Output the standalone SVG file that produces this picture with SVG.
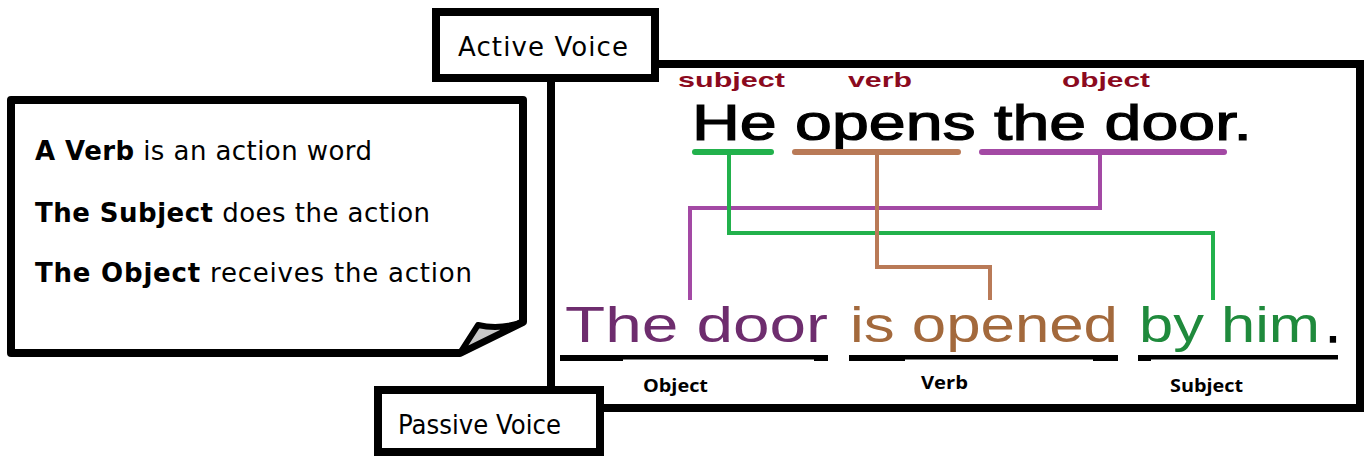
<svg xmlns="http://www.w3.org/2000/svg" width="1367" height="456" viewBox="0 0 1367 456">
<style>
.box{fill:#fff;stroke:#000;stroke-width:8}
.frame{fill:none;stroke:#000;stroke-width:8}
.comic{font-family:"DejaVu Sans","Liberation Sans",sans-serif;font-size:26px;fill:#000}
.b{font-weight:bold}
.lab{font-family:"Liberation Sans",Arial,sans-serif;font-weight:bold;font-size:21px;fill:#8b0a1e}
.big{font-family:"Liberation Sans",Arial,sans-serif;font-size:50px}
.small{font-family:"Open Sans","Liberation Sans",sans-serif;font-weight:bold;font-size:18px;fill:#000}
.con{fill:none;stroke-width:4}
.ul{stroke-width:6;stroke-linecap:round}
</style>
<rect width="1367" height="456" fill="#fff"/>
<g id="main-frame">
<path class="frame" d="M655 64 H1360 V408 H600 M551 80 V388"/>
</g>
<g id="note">
<path d="M11 100 H523 V322 L460 353 H11 Z" fill="#fff" stroke="#000" stroke-width="8" stroke-linejoin="round"/>
<path d="M460 353 L478 325 Q500 330 523 322 Z" fill="#c8c8c8" stroke="#000" stroke-width="6" stroke-linejoin="round"/>
<text class="comic" x="35" y="160" textLength="337"><tspan class="b">A Verb</tspan> is an action word</text>
<text class="comic" x="35" y="222" textLength="395"><tspan class="b">The Subject</tspan> does the action</text>
<text class="comic" x="35" y="282" textLength="437"><tspan class="b">The Object</tspan> receives the action</text>
</g>
<g id="active-voice">
<rect class="box" x="436" y="12" width="219" height="66"/>
<text class="comic" x="458" y="56" textLength="170">Active Voice</text>
</g>
<g id="passive-voice">
<rect class="box" x="378" y="390" width="222" height="62"/>
<text class="comic" x="398" y="434" textLength="163" lengthAdjust="spacingAndGlyphs">Passive Voice</text>
</g>
<g id="active-sentence">
<text class="lab" x="678" y="87" textLength="107" lengthAdjust="spacingAndGlyphs">subject</text>
<text class="lab" x="848" y="87" textLength="64" lengthAdjust="spacingAndGlyphs">verb</text>
<text class="lab" x="1062" y="87" textLength="88" lengthAdjust="spacingAndGlyphs">object</text>
<text class="big" x="692" y="140" fill="#000" stroke="#000" stroke-width="1.2" textLength="560" lengthAdjust="spacingAndGlyphs">He opens the door.</text>
<line class="ul" x1="695" y1="152" x2="771" y2="152" stroke="#22b14c"/>
<line class="ul" x1="795" y1="152" x2="958" y2="152" stroke="#b97a57"/>
<line class="ul" x1="982" y1="152" x2="1224" y2="152" stroke="#a349a4"/>
</g>
<g id="connectors">
<path class="con" stroke="#a349a4" d="M1100 152 V208 H690 V300"/>
<path class="con" stroke="#22b14c" d="M729 152 V233 H1213 V300"/>
<path class="con" stroke="#b97a57" d="M877 152 V267 H990 V300"/>
</g>
<g id="passive-sentence">
<text class="big" x="565" y="342" fill="#6e2d6e" textLength="263" lengthAdjust="spacingAndGlyphs">The door</text>
<text class="big" x="850" y="342" fill="#a3693c" textLength="268" lengthAdjust="spacingAndGlyphs">is opened</text>
<text class="big" x="1139" y="342" fill="#1f8a3c" textLength="181" lengthAdjust="spacingAndGlyphs">by him</text>
<text class="big" x="1326" y="342" fill="#000" stroke="#000" stroke-width="1.5">.</text>
<line x1="560" y1="358" x2="828" y2="358" stroke="#000" stroke-width="6"/>
<line x1="849" y1="358" x2="1118" y2="358" stroke="#000" stroke-width="6"/>
<line x1="1138" y1="358" x2="1338" y2="358" stroke="#000" stroke-width="6"/>
<rect x="623" y="359.5" width="191" height="44.5" fill="#fff"/>
<rect x="905" y="359.5" width="188" height="44.5" fill="#fff"/>
<rect x="1151" y="359.5" width="189" height="44.5" fill="#fff"/>
<text class="small" x="643" y="392" textLength="65" lengthAdjust="spacingAndGlyphs">Object</text>
<text class="small" x="921" y="389" textLength="47" lengthAdjust="spacingAndGlyphs">Verb</text>
<text class="small" x="1170" y="392" textLength="73" lengthAdjust="spacingAndGlyphs">Subject</text>
</g>
</svg>
